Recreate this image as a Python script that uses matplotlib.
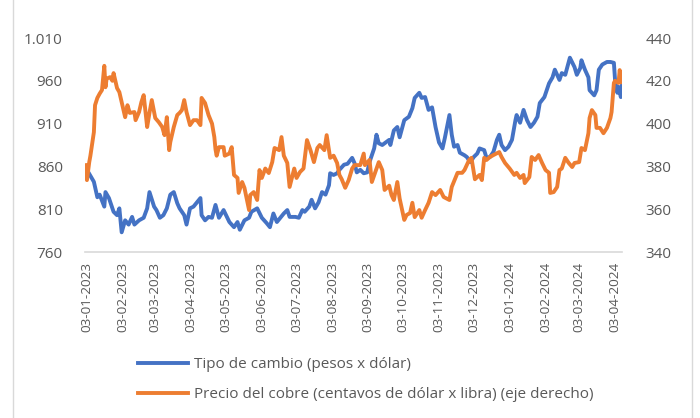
import pandas as pd
import matplotlib.pyplot as plt
from matplotlib.lines import Line2D
from matplotlib.ticker import FuncFormatter

plt.rcParams['font.family'] = ['Open Sans', 'DejaVu Sans']

# Tipo de cambio (pesos x dólar), eje izquierdo
tc_fechas = [
    "2023-01-03", "2023-01-09", "2023-01-12", "2023-01-14", "2023-01-18", "2023-01-19", "2023-01-22", "2023-01-26", "2023-01-29", "2023-01-31",
    "2023-02-02", "2023-02-05", "2023-02-08", "2023-02-11", "2023-02-13", "2023-02-17", "2023-02-21", "2023-02-24", "2023-02-26",
    "2023-03-02", "2023-03-04", "2023-03-07", "2023-03-10", "2023-03-13", "2023-03-16", "2023-03-19", "2023-03-22", "2023-03-24", "2023-03-28", "2023-03-30",
    "2023-04-02", "2023-04-05", "2023-04-08", "2023-04-11", "2023-04-12", "2023-04-15", "2023-04-18", "2023-04-21", "2023-04-24", "2023-04-27",
    "2023-05-01", "2023-05-06", "2023-05-10", "2023-05-13", "2023-05-15", "2023-05-19", "2023-05-23", "2023-05-25", "2023-05-30",
    "2023-06-03", "2023-06-07", "2023-06-10", "2023-06-13", "2023-06-16", "2023-06-19", "2023-06-22", "2023-06-25", "2023-06-27",
    "2023-07-02", "2023-07-05", "2023-07-08", "2023-07-10", "2023-07-14", "2023-07-16", "2023-07-19", "2023-07-22", "2023-07-25", "2023-07-28", "2023-07-31",
    "2023-08-01", "2023-08-04", "2023-08-07", "2023-08-09", "2023-08-13", "2023-08-16", "2023-08-20", "2023-08-22", "2023-08-24", "2023-08-27", "2023-08-30",
    "2023-09-02", "2023-09-04", "2023-09-08", "2023-09-10", "2023-09-12", "2023-09-15", "2023-09-17", "2023-09-21", "2023-09-22", "2023-09-25", "2023-09-28", "2023-09-30",
    "2023-10-04", "2023-10-08", "2023-10-11", "2023-10-13", "2023-10-17", "2023-10-19", "2023-10-22", "2023-10-25", "2023-10-28", "2023-10-31",
    "2023-11-03", "2023-11-06", "2023-11-08", "2023-11-12", "2023-11-14", "2023-11-16", "2023-11-19", "2023-11-21", "2023-11-25", "2023-11-27", "2023-11-30",
    "2023-12-03", "2023-12-06", "2023-12-08", "2023-12-12", "2023-12-14", "2023-12-17", "2023-12-20", "2023-12-23", "2023-12-25", "2023-12-27", "2023-12-30",
    "2024-01-02", "2024-01-05", "2024-01-08", "2024-01-09", "2024-01-12", "2024-01-15", "2024-01-18", "2024-01-21", "2024-01-24", "2024-01-27", "2024-01-29",
    "2024-02-02", "2024-02-04", "2024-02-06", "2024-02-09", "2024-02-11", "2024-02-15", "2024-02-17", "2024-02-20", "2024-02-24", "2024-02-28",
    "2024-03-01", "2024-03-04", "2024-03-05", "2024-03-08", "2024-03-11", "2024-03-12", "2024-03-16", "2024-03-18", "2024-03-20", "2024-03-23", "2024-03-27", "2024-03-30",
    "2024-04-02", "2024-04-03", "2024-04-05", "2024-04-06", "2024-04-08", "2024-04-09",
]
tc_valores = [
    856, 842, 824, 827, 813, 830, 823, 807, 803, 811,
    783, 797, 792, 801, 792, 797, 800, 811, 830,
    813, 809, 800, 803, 811, 827, 830, 817, 811, 803, 792,
    811, 813, 818, 823, 803, 797, 801, 800, 815, 800,
    809, 795, 789, 795, 786, 797, 800, 807, 811,
    800, 794, 789, 805, 795, 800, 805, 809, 801,
    801, 800, 809, 807, 813, 821, 811, 818, 830, 827, 838,
    852, 850, 852, 856, 862, 863, 870, 864, 853, 856, 852,
    853, 865, 881, 897, 887, 885, 887, 891, 885, 902, 906, 894,
    914, 918, 928, 940, 946, 940, 941, 926, 929, 906,
    888, 881, 893, 920, 897, 883, 885, 876, 873, 871, 865,
    871, 875, 881, 879, 870, 871, 877, 891, 897, 885, 879,
    883, 891, 914, 920, 911, 926, 914, 906, 911, 918, 934,
    941, 949, 957, 964, 973, 961, 969, 967, 987, 976,
    967, 975, 984, 973, 964, 949, 943, 949, 973, 979, 982, 982,
    981, 961, 946, 953, 941, 955,
]

# Precio del cobre (centavos de dólar x libra), eje derecho
cobre_fechas = [
    "2023-01-02", "2023-01-03", "2023-01-05", "2023-01-06", "2023-01-09", "2023-01-10", "2023-01-12", "2023-01-14", "2023-01-16", "2023-01-18", "2023-01-19", "2023-01-20", "2023-01-23", "2023-01-25", "2023-01-26", "2023-01-29", "2023-01-31",
    "2023-02-02", "2023-02-05", "2023-02-07", "2023-02-09", "2023-02-13", "2023-02-14", "2023-02-17", "2023-02-19", "2023-02-21", "2023-02-24", "2023-02-26", "2023-02-28",
    "2023-03-03", "2023-03-06", "2023-03-09", "2023-03-11", "2023-03-13", "2023-03-15", "2023-03-16", "2023-03-19", "2023-03-22", "2023-03-24", "2023-03-26", "2023-03-28", "2023-03-30",
    "2023-04-02", "2023-04-05", "2023-04-08", "2023-04-11", "2023-04-12", "2023-04-15", "2023-04-18", "2023-04-21", "2023-04-23", "2023-04-24", "2023-04-25", "2023-04-27",
    "2023-05-01", "2023-05-02", "2023-05-06", "2023-05-08", "2023-05-10", "2023-05-13", "2023-05-14", "2023-05-17", "2023-05-19", "2023-05-23", "2023-05-24", "2023-05-27", "2023-05-30",
    "2023-06-01", "2023-06-03", "2023-06-06", "2023-06-09", "2023-06-12", "2023-06-14", "2023-06-18", "2023-06-20", "2023-06-22", "2023-06-25", "2023-06-27",
    "2023-07-01", "2023-07-03", "2023-07-06", "2023-07-09", "2023-07-12", "2023-07-15", "2023-07-18", "2023-07-21", "2023-07-23", "2023-07-27", "2023-07-29",
    "2023-08-01", "2023-08-04", "2023-08-07", "2023-08-09", "2023-08-11", "2023-08-14", "2023-08-17", "2023-08-20", "2023-08-22", "2023-08-27", "2023-08-30", "2023-08-31",
    "2023-09-04", "2023-09-06", "2023-09-09", "2023-09-12", "2023-09-15", "2023-09-17", "2023-09-21", "2023-09-23", "2023-09-25", "2023-09-28", "2023-09-30",
    "2023-10-04", "2023-10-06", "2023-10-09", "2023-10-11", "2023-10-13", "2023-10-17", "2023-10-19", "2023-10-22", "2023-10-25", "2023-10-28", "2023-10-31",
    "2023-11-04", "2023-11-07", "2023-11-12", "2023-11-14", "2023-11-19", "2023-11-23", "2023-11-25", "2023-11-29",
    "2023-12-01", "2023-12-04", "2023-12-08", "2023-12-10", "2023-12-12", "2023-12-14", "2023-12-17", "2023-12-20", "2023-12-25", "2023-12-27", "2023-12-30",
    "2024-01-03", "2024-01-07", "2024-01-09", "2024-01-12", "2024-01-15", "2024-01-16", "2024-01-20", "2024-01-22", "2024-01-25", "2024-01-28", "2024-01-31",
    "2024-02-03", "2024-02-06", "2024-02-07", "2024-02-10", "2024-02-13", "2024-02-15", "2024-02-17", "2024-02-20", "2024-02-23", "2024-02-26", "2024-02-28",
    "2024-03-03", "2024-03-05", "2024-03-08", "2024-03-11", "2024-03-12", "2024-03-14", "2024-03-17", "2024-03-18", "2024-03-21", "2024-03-24", "2024-03-27", "2024-03-30", "2024-03-31",
    "2024-04-02", "2024-04-03", "2024-04-06", "2024-04-07", "2024-04-09",
]
cobre_valores = [
    380.6, 373.6, 382, 385, 396, 408.6, 412, 414, 415.7, 427, 417, 421, 421.7, 420, 423.6, 416.6, 414.7,
    410, 403, 408.6, 405, 405.4, 401.6, 405.4, 410, 413.3, 398.4, 405, 411,
    402.6, 400.7, 398.4, 394.6, 403, 387.6, 391.4, 398.4, 404, 405, 406.3, 411, 405.4,
    399.3, 401.6, 401.6, 399.3, 412, 409.6, 404, 400, 393.7, 388, 385, 389,
    389, 385, 386, 389, 376, 374.6, 367.6, 372.7, 370, 359.6, 366.6, 368, 364.3,
    378.3, 374.6, 379, 376.9, 382, 388.6, 387.6, 393.7, 385, 381.6, 370.4,
    379, 374.6, 377.4, 379, 392.3, 387.6, 382, 388.6, 390, 387.6, 394.6,
    384, 385, 381.6, 376, 374, 370, 373.6, 379, 380.6, 380.6, 386, 380.6,
    383, 372.7, 377.4, 382, 378.3, 369, 371, 366.6, 364.3, 372.7, 365,
    355, 357.3, 358.2, 363, 356.3, 359.6, 356, 359.6, 363, 368, 366.6,
    369, 365.7, 364.3, 370.4, 377, 377, 378.3, 383,
    384, 374, 376, 373.6, 384, 383, 384.4, 385.3, 386.7, 384.4, 381.6,
    379, 376, 377, 374.6, 376, 372.2, 375, 384.4, 383, 385.3, 381.6,
    378.3, 377, 367.6, 368, 370.4, 378.3, 379, 384, 381.6, 379.7, 381.6,
    382, 388.6, 387.6, 395.5, 402.6, 406.3, 404, 398, 398, 395.5, 398, 402.6, 405.4,
    419, 420, 419, 425, 419.4,
]

ticks_izq = [760, 810, 860, 910, 960, 1010]
ticks_der = [340, 360, 380, 400, 420, 440]
ticks_x = pd.date_range("2023-01-03", "2024-04-03", freq=pd.DateOffset(months=1))

AZUL = '#4472C4'
NARANJA = '#ED7D31'
GRIS = '#595959'
LINEA = '#D9D9D9'

fig = plt.figure(figsize=(7, 4.18), dpi=100)
ax = fig.add_axes([85 / 700, 1 - 252 / 418, 537 / 700, 214 / 418])
ax2 = ax.twinx()

ax.plot(pd.to_datetime(tc_fechas), tc_valores, color=AZUL, lw=2.8, solid_joinstyle='round')
ax2.plot(pd.to_datetime(cobre_fechas), cobre_valores, color=NARANJA, lw=2.8, solid_joinstyle='round')

ax.set_xlim(pd.Timestamp("2023-01-01 08:00"), pd.Timestamp("2024-04-09"))
ax.set_ylim(760, 1010)
ax2.set_ylim(340, 440)
ax.set_yticks(ticks_izq)
ax2.set_yticks(ticks_der)
ax.yaxis.set_major_formatter(FuncFormatter(lambda v, p: f'{v:,.0f}'.replace(',', '.')))
ax.set_xticks(ticks_x)
ax.set_xticklabels([d.strftime('%d-%m-%Y') for d in ticks_x], rotation=90)

for a in (ax, ax2):
    for s in a.spines.values():
        s.set_visible(False)
ax.spines['bottom'].set_visible(True)
ax.spines['bottom'].set_color(LINEA)
ax.spines['bottom'].set_linewidth(1.2)

ax.tick_params(axis='y', length=0, pad=16, labelsize=11, labelcolor=GRIS)
ax2.tick_params(axis='y', length=0, pad=17, labelsize=11, labelcolor=GRIS)
ax.tick_params(axis='x', length=0, pad=7, labelsize=9.7, labelcolor=GRIS)

handles = [Line2D([], [], color=AZUL, lw=2.8), Line2D([], [], color=NARANJA, lw=2.8)]
etiquetas = ['Tipo de cambio (pesos x dólar)',
             'Precio del cobre (centavos de dólar x libra) (eje derecho)']
fig.legend(handles, etiquetas, loc='upper left', bbox_to_anchor=(138 / 700, 1 - 357 / 418),
           frameon=False, fontsize=11, labelcolor=GRIS, handlelength=3.3,
           handletextpad=0.35, labelspacing=1.0, borderpad=0, borderaxespad=0)

# borde del área del gráfico
fig.add_artist(Line2D([13 / 700, 13 / 700], [0, 1], color=LINEA, lw=1))
fig.add_artist(Line2D([692 / 700, 692 / 700], [0, 1], color=LINEA, lw=1))

fig.savefig('out.png', dpi=100)
